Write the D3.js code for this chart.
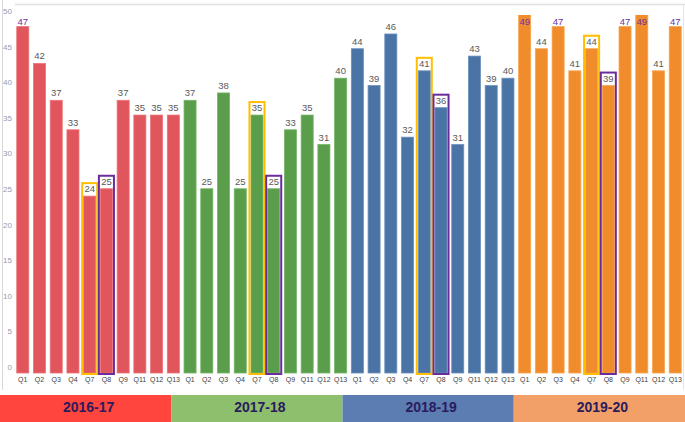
<!DOCTYPE html>
<html>
<head>
<meta charset="utf-8">
<script src="https://cdn.jsdelivr.net/npm/d3@7"></script>
<style>
html,body{margin:0;padding:0;background:#fff;}
svg{display:block;}
</style>
</head>
<body>
<svg id="chart" width="685" height="422"></svg>
<script>
// ---- data ----
const years = ["2016-17", "2017-18", "2018-19", "2019-20"];
const quarters = ["Q1", "Q2", "Q3", "Q4", "Q7", "Q8", "Q9", "Q11", "Q12", "Q13"];
const values2016 = [47, 42, 37, 33, 24, 25, 37, 35, 35, 35];
const values2017 = [37, 25, 38, 25, 35, 25, 33, 35, 31, 40];
const values2018 = [44, 39, 46, 32, 41, 36, 31, 43, 39, 40];
const values2019 = [49, 44, 47, 41, 44, 39, 47, 49, 41, 47];
const yTicks = [0, 5, 10, 15, 20, 25, 30, 35, 40, 45, 50];
const highlightQ7 = "Q7";
const highlightQ8 = "Q8";

// ---- styles ----
const barColors = ["#e0565c", "#5a9e4b", "#4a74a6", "#f08c2c"];
const barStroke = ["#ec7378", "#74b566", "#6a90bd", "#f7a550"];
const bandColors = ["#ff453d", "#8dbf6c", "#5b7db1", "#f29f68"];

const allValues = [values2016, values2017, values2018, values2019];
const rows = [];
years.forEach((yr, yi) => {
  quarters.forEach((q, qi) => {
    rows.push({key: yr + "|" + q, year: yr, yi: yi, q: q, v: allValues[yi][qi]});
  });
});

const W = 685, H = 422;
const svg = d3.select("#chart");

const x = d3.scaleBand()
  .domain(rows.map(d => d.key))
  .range([14.4, 683.6])
  .paddingInner(0.28)
  .paddingOuter(0.14);
const y = d3.scaleLinear().domain([0, 50]).range([373, 4.5]);
const yLab = d3.scaleLinear().domain([0, 50]).range([367, 11]);
const bandX = d3.scaleBand().domain(years).range([0, W]);

// frame lines
svg.append("line").attr("x1", 2.5).attr("x2", 2.5).attr("y1", 0).attr("y2", 390)
  .attr("stroke", "#d9d9d9").attr("stroke-width", 1);
svg.append("line").attr("x1", 15).attr("x2", W).attr("y1", 4.5).attr("y2", 4.5)
  .attr("stroke", "#e0e0e0").attr("stroke-width", 1.5);
svg.append("line").attr("x1", 683.5).attr("x2", 683.5).attr("y1", 4).attr("y2", 390)
  .attr("stroke", "#e6e6e6").attr("stroke-width", 1);

// clip for bars
svg.append("defs").append("clipPath").attr("id", "plotclip")
  .append("rect").attr("x", 0).attr("y", 15).attr("width", W).attr("height", 380);

// y axis labels
const yAxis = svg.append("g").attr("transform", "translate(14,0)")
  .call(d3.axisLeft(yLab).tickValues(yTicks).tickSize(0).tickPadding(2));
yAxis.select(".domain").remove();
yAxis.selectAll("text")
  .attr("fill", "#9a98ae")
  .style("font-family", "'Liberation Sans Narrow','Liberation Sans',Arial,sans-serif")
  .style("font-size", "8px");

// x axis labels
const xAxis = svg.append("g").attr("transform", "translate(0,377)")
  .call(d3.axisBottom(x).tickSize(0).tickPadding(0).tickFormat(k => k.split("|")[1]));
xAxis.select(".domain").remove();
xAxis.selectAll("text")
  .attr("fill", "#404040")
  .style("font-family", "'Liberation Sans Narrow','Liberation Sans',Arial,sans-serif")
  .style("font-size", "7px");

// bars
svg.append("g").attr("clip-path", "url(#plotclip)")
  .selectAll("rect").data(rows).join("rect")
  .attr("x", d => x(d.key))
  .attr("y", d => y(d.v))
  .attr("width", x.bandwidth())
  .attr("height", d => y(0) - y(d.v))
  .attr("fill", d => barColors[d.yi])
  .attr("stroke", d => barStroke[d.yi])
  .attr("stroke-width", 0.8);

// highlight boxes
const boxes = rows.filter(d => d.q === highlightQ7 || d.q === highlightQ8);
svg.append("g").selectAll("rect").data(boxes).join("rect")
  .attr("x", d => x(d.key) - 1.5)
  .attr("y", d => y(d.v) - 13)
  .attr("width", x.bandwidth() + 3)
  .attr("height", d => y(0) + 1 - (y(d.v) - 13))
  .attr("fill", "none")
  .attr("stroke", d => d.q === highlightQ7 ? "#ffbf00" : "#6a2c9c")
  .attr("stroke-width", 2);

// value labels
const clipTop = 15;
svg.append("g").selectAll("text").data(rows).join("text")
  .attr("x", d => x(d.key) + x.bandwidth() / 2)
  .attr("y", d => (y(d.v) - 12 < clipTop) ? clipTop + 10 : y(d.v) - 4)
  .attr("text-anchor", "middle")
  .attr("fill", d => (y(d.v) - 12 < clipTop) ? "#7030a0" : "#595959")
  .style("font-family", "'Liberation Sans Narrow','Liberation Sans',Arial,sans-serif")
  .style("font-size", "9.5px")
  .text(d => d.v);

// year bands
const band = svg.append("g");
band.selectAll("rect").data(years).join("rect")
  .attr("x", d => bandX(d))
  .attr("y", 395)
  .attr("width", bandX.bandwidth())
  .attr("height", 27)
  .attr("fill", (d, i) => bandColors[i]);
band.selectAll("text").data(years).join("text")
  .attr("x", d => bandX(d) + bandX.bandwidth() / 2 + 3)
  .attr("y", 412)
  .attr("text-anchor", "middle")
  .attr("fill", "#2a1c5c")
  .style("font-family", "'Liberation Sans',Arial,sans-serif")
  .style("font-weight", "bold")
  .style("font-size", "14px")
  .text(d => d);
</script>
</body>
</html>
